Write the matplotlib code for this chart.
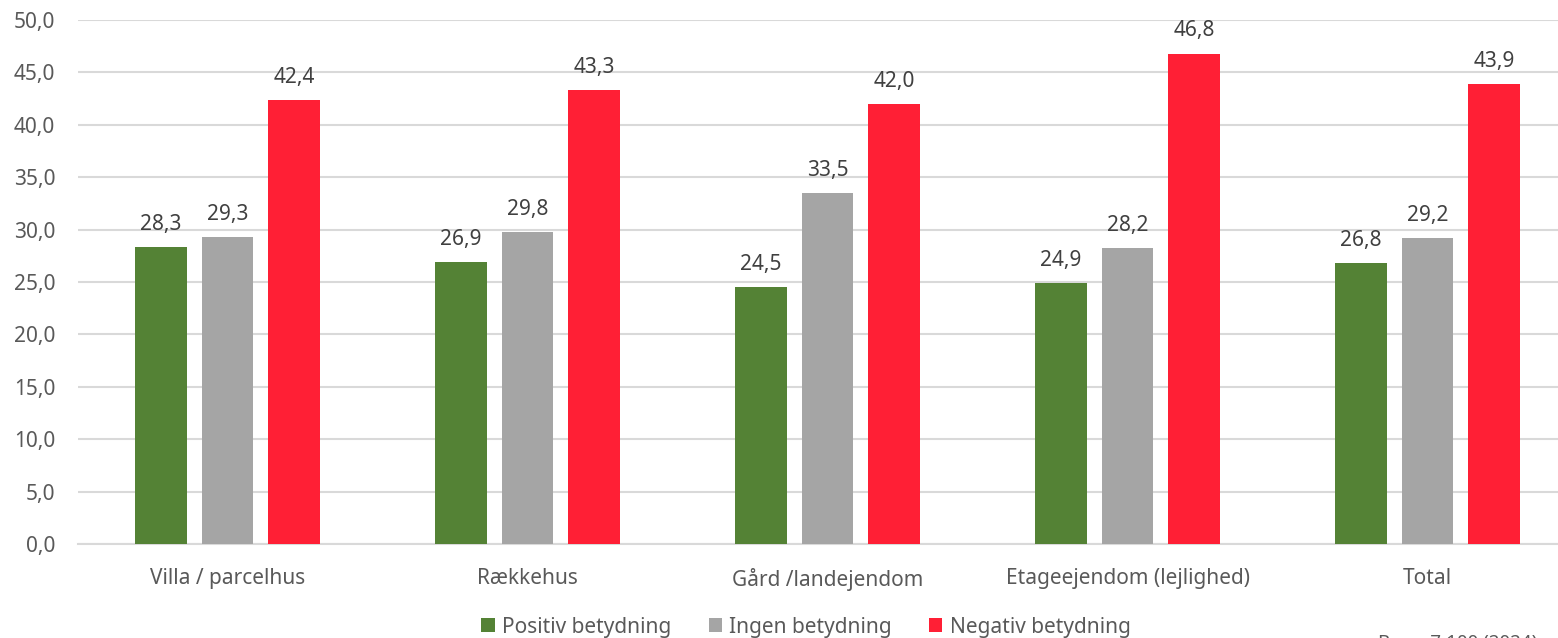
import matplotlib
matplotlib.use("Agg")
import matplotlib.pyplot as plt
import numpy as np

categories = ["Villa / parcelhus", "Rækkehus", "Gård /landejendom", "Etageejendom (lejlighed)", "Total"]
series_names = ["Positiv betydning", "Ingen betydning", "Negativ betydning"]
positiv = [28.3, 26.9, 24.5, 24.9, 26.8]
ingen = [29.3, 29.8, 33.5, 28.2, 29.2]
negativ = [42.4, 43.3, 42.0, 46.8, 43.9]
yticks = [0, 5, 10, 15, 20, 25, 30, 35, 40, 45, 50]

colors = ["#548235", "#A5A5A5", "#FF1F35"]
plt.rcParams['font.family'] = ['Noto Sans', 'DejaVu Sans']
FS = 15

fig = plt.figure(figsize=(15.58, 6.38), dpi=100)
ax = fig.add_axes([77.5/1558, 1-544/638, 1500/1558, (544-20)/638])

x = np.arange(len(categories))
w = 0.173
off = 0.222
for i, (vals, name) in enumerate(zip([positiv, ingen, negativ], series_names)):
    pos = x + (i - 1) * off
    bars = ax.bar(pos, vals, width=w, color=colors[i], label=name, zorder=3)
    for b, v in zip(bars, vals):
        ax.text(b.get_x() + b.get_width()/2, v + 1.15, f"{v:.1f}".replace('.', ','),
                ha='center', va='bottom', fontsize=FS, color='#404040')

ax.set_xlim(-0.5, len(categories) - 0.5)
ax.set_ylim(0, 50)
ax.set_yticks(yticks)
ax.set_yticklabels([f"{t:.1f}".replace('.', ',') for t in yticks], fontsize=FS, color='#595959')
ax.set_xticks(x)
ax.set_xticklabels(categories, fontsize=FS, color='#595959')
ax.tick_params(axis='both', length=0)
ax.tick_params(axis='y', pad=16)
ax.tick_params(axis='x', pad=17)
ax.grid(axis='y', color='#D9D9D9', linewidth=1.5, zorder=0)
for s in ['top', 'right', 'left']:
    ax.spines[s].set_visible(False)
ax.spines['bottom'].set_color('#D9D9D9')
ax.spines['bottom'].set_linewidth(1.5)

leg = fig.legend(loc='center', bbox_to_anchor=(806/1558, 1-627/638), ncol=3, frameon=False,
                 fontsize=FS, handlelength=0.63, handleheight=0.63, handletextpad=0.35,
                 columnspacing=1.8, labelcolor='#595959')

fig.text(1378/1558, 1-634/638, "Base: 7.100 (2024)", fontsize=13.5, color='#595959', va='top', ha='left')

fig.savefig("out.png", dpi=100)
